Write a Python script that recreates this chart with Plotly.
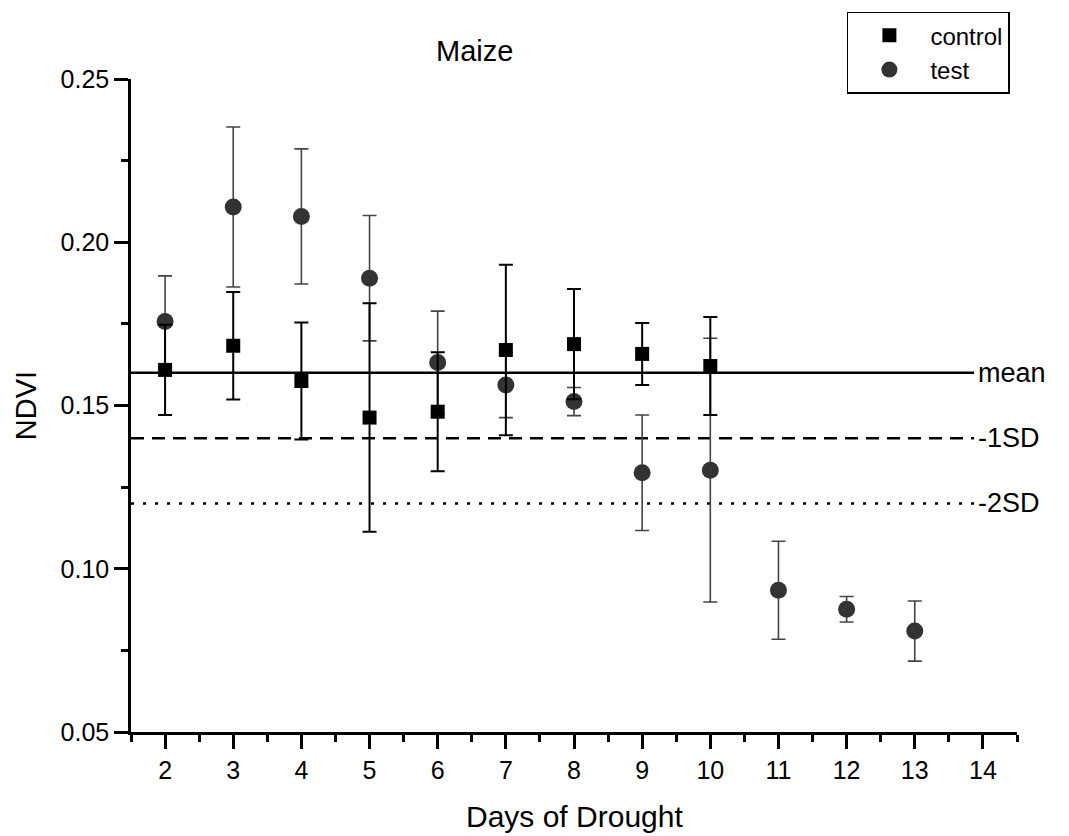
import plotly.graph_objects as go

# NDVI of maize over days of drought
days_control = [2, 3, 4, 5, 6, 7, 8, 9, 10]
ndvi_control = [0.1609, 0.1683, 0.1575, 0.1463, 0.1481, 0.1670, 0.1688, 0.1658, 0.1621]
err_control = [0.0138, 0.0165, 0.0179, 0.0350, 0.0182, 0.0261, 0.0169, 0.0095, 0.0150]

days_test = [2, 3, 4, 5, 6, 7, 8, 9, 10, 11, 12, 13]
ndvi_test = [0.1757, 0.2108, 0.2079, 0.1890, 0.1632, 0.1563, 0.1512, 0.1294, 0.1302, 0.0934, 0.0876, 0.0809]
err_test = [0.0140, 0.0245, 0.0207, 0.0192, 0.0157, 0.0100, 0.0043, 0.0177, 0.0404, 0.0150, 0.0039, 0.0092]

# Reference levels
ref_names = ["mean", "-1SD", "-2SD"]
ref_values = [0.160, 0.140, 0.120]
ref_dash = ["solid", "13px,8px", "3px,9px"]
ref_span = [1.5, 13.87]

FONT = "Liberation Sans, Arial, sans-serif"

fig = go.Figure()

for name, val, dash in zip(ref_names, ref_values, ref_dash):
    fig.add_trace(go.Scatter(
        x=ref_span, y=[val, val], mode="lines",
        line=dict(color="black", width=2.5, dash=dash),
        showlegend=False, hoverinfo="skip",
    ))
    fig.add_annotation(
        x=ref_span[1], y=val, xref="x", yref="y", text=name,
        showarrow=False, xanchor="left", yanchor="middle", xshift=2,
        font=dict(family=FONT, size=27, color="black"),
    )

fig.add_trace(go.Scatter(
    x=days_test, y=ndvi_test, mode="markers", name="test",
    marker=dict(symbol="circle", size=17, color="#333333"),
    error_y=dict(type="data", array=err_test, visible=True,
                 color="#444444", thickness=1.6, width=7),
    legendrank=2,
))

fig.add_trace(go.Scatter(
    x=days_control, y=ndvi_control, mode="markers", name="control",
    marker=dict(symbol="square", size=14, color="black"),
    error_y=dict(type="data", array=err_control, visible=True,
                 color="black", thickness=2, width=7),
    legendrank=1,
))

# Chart title and x-axis title
fig.add_annotation(
    x=0.388, y=1.043, xref="paper", yref="paper", text="Maize",
    showarrow=False, xanchor="center", yanchor="middle",
    font=dict(family=FONT, size=29, color="black"),
)
fig.add_annotation(
    x=0.5, y=-0.129, xref="paper", yref="paper", text="Days of Drought",
    showarrow=False, xanchor="center", yanchor="middle",
    font=dict(family=FONT, size=30, color="black"),
)

axis_common = dict(
    showline=True, linecolor="black", linewidth=2.5, mirror=False,
    ticks="outside", ticklen=14, tickwidth=2.5, tickcolor="black",
    showgrid=False, zeroline=False,
    tickfont=dict(family=FONT, size=25, color="black"),
)

fig.update_xaxes(
    range=[1.5, 14.5], tick0=2, dtick=1,
    minor=dict(ticks="outside", ticklen=7, tickwidth=2.5, tickcolor="black", dtick=0.5, tick0=1.5),
    **axis_common,
)
fig.update_yaxes(
    range=[0.05, 0.25], tick0=0.05, dtick=0.05, tickformat=".2f",
    title=dict(text="NDVI", font=dict(family=FONT, size=29, color="black"), standoff=16),
    minor=dict(ticks="outside", ticklen=7, tickwidth=2.5, tickcolor="black", dtick=0.025, tick0=0.05),
    **axis_common,
)

fig.update_layout(
    width=1069, height=836,
    margin=dict(l=131, r=52, t=79, b=104),
    paper_bgcolor="white", plot_bgcolor="white",
    legend=dict(
        x=0.808, y=1.103, xanchor="left", yanchor="top",
        bordercolor="black", borderwidth=1.5, bgcolor="white",
        font=dict(family=FONT, size=24, color="black"),
        itemwidth=72, tracegroupgap=0,
    ),
)

fig.write_html("out.html")
